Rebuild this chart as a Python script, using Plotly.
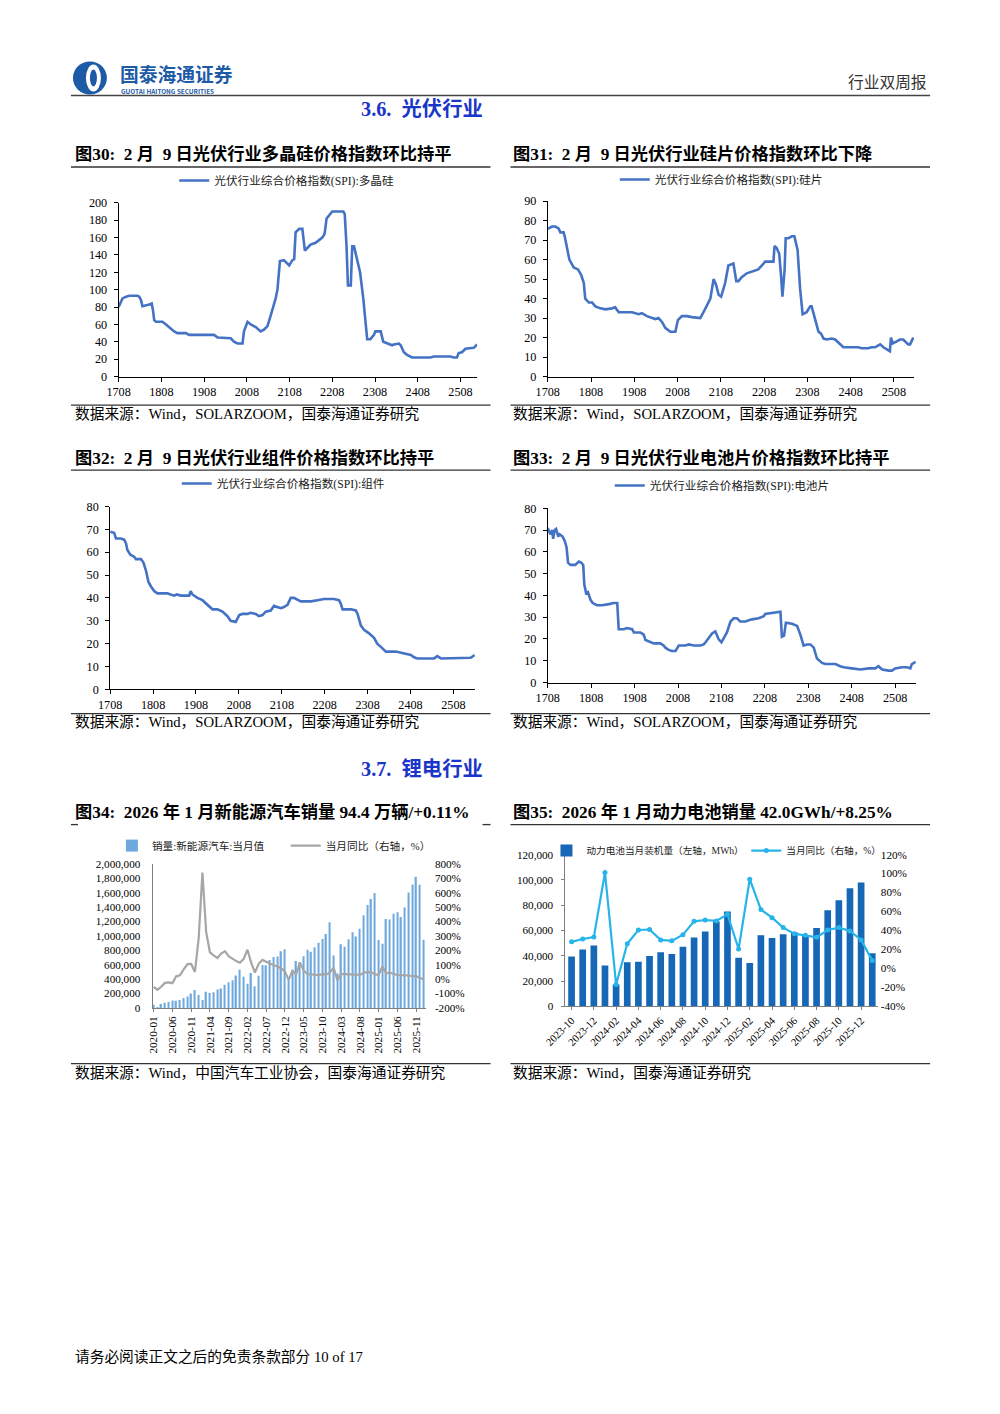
import plotly.graph_objects as go

W, H = 1000, 1414
# the page photo shows the figure slightly scaled/offset; map reference pixels to paper coords
SX, OX = 0.98, 20.0
SY, OY = 0.99, 6.5
def px(x): return (x - OX) / SX / W
def py(y): return 1 - (y - OY) / SY / H
K = 1.015  # font compensation

FONT = "Liberation Serif, Noto Sans CJK SC, serif"
SANS = "Noto Sans CJK SC, Noto Sans, sans-serif"

# ---------------- data ----------------
spi_tickvals = [0, 12, 24, 36, 48, 60, 72, 84, 96]
spi_ticktext = ["1708", "1808", "1908", "2008", "2108", "2208", "2308", "2408", "2508"]

# x = months since Aug-2017
poly_x = [0, 1.1, 2.1, 3.0, 5.3, 5.8, 6.3, 6.7, 8.6, 9.3, 9.7, 10.0, 10.5, 12.3, 13.3, 14.7, 15.6, 16.5,
          17.9, 18.9, 19.8, 26.8, 27.8, 31.5, 32.4, 33.4, 34.8, 35.2, 36.2, 37.1, 38.5, 39.9, 40.8, 41.8,
          42.7, 43.5, 44.1, 44.6, 45.3, 46.4, 47.4, 47.9, 48.8, 49.3, 49.7, 50.7, 51.6, 52.3, 53.0, 53.9,
          55.3, 56.3, 57.2, 57.7, 57.9, 58.4, 59.1, 60.0, 63.1, 63.5, 64.0, 64.4, 65.2, 65.6, 66.1, 67.0,
          67.8, 68.7, 69.3, 69.8, 70.7, 71.7, 72.1, 73.6, 74.3, 75.4, 76.8, 77.3, 78.7, 79.2, 80.1, 81.0,
          82.0, 82.4, 87.6, 88.5, 93.2, 94.1, 95.0, 95.5, 96.4, 97.4, 99.7, 100.7]
poly_y = [80, 90, 92, 93, 93, 92, 88, 81, 83, 84, 75, 65, 63, 63, 60, 55, 52, 50,
          50, 50, 48, 48, 45, 44, 40, 38, 38, 52, 63, 60, 57, 52, 54, 58,
          70, 80, 90, 100, 133, 134, 130, 128, 134, 135, 166, 170, 170, 145, 148, 152,
          154, 157, 160, 163, 166, 182, 185, 190, 190, 187, 150, 105, 105, 150, 150, 135,
          120, 90, 60, 43, 43, 48, 52, 52, 40, 38, 36, 37, 38, 36, 28, 25,
          23, 22, 22, 23, 23, 22, 22, 27, 28, 32, 33, 37]

wafer_x = [0, 1.2, 2.1, 3.0, 3.5, 4.4, 4.7, 5.2, 5.4, 6.0, 7.2, 8.4, 9.3, 10.0, 10.4, 11.4, 12.3, 13.2,
           14.6, 16.0, 17.8, 18.7, 19.7, 23.4, 25.2, 26.1, 27.5, 28.9, 29.8, 30.7, 31.7, 32.6, 34.0, 35.4,
           36.1, 37.2, 38.6, 40.0, 42.3, 43.2, 44.1, 45.1, 46.0, 46.7, 47.4, 48.1, 49.2, 50.1, 51.5, 52.3,
           52.9, 53.8, 55.2, 56.6, 58.4, 59.4, 60.3, 62.6, 62.9, 63.5, 64.2, 64.7, 65.1, 65.7, 66.0, 66.8,
           67.7, 68.4, 69.3, 70.0, 70.7, 71.8, 72.8, 73.2, 74.1, 75.1, 75.8, 76.5, 77.4, 78.8, 79.7, 80.6,
           81.1, 82.0, 86.1, 87.1, 88.9, 89.8, 90.8, 92.2, 93.1, 94.0, 94.9, 95.2, 95.7, 96.8, 97.7, 98.6,
           99.1, 100.0, 100.5, 101.4]
wafer_y = [75.8, 77, 77, 76, 74, 74, 72, 67, 67, 60, 56, 55, 52, 48, 40, 38, 38, 36,
           35, 34.5, 35, 35.5, 33, 33, 32, 32.5, 31, 30, 29.5, 30, 28, 25, 23, 23,
           29, 31, 31, 30.5, 30, 33, 36, 40, 50, 47, 42, 41, 48, 57, 58, 49,
           49, 51, 53, 54, 55, 57, 59, 59, 67, 66, 63, 52, 41, 55, 71, 71,
           72, 72, 65, 45, 32, 33, 36, 36, 30, 23, 22, 19.5, 19, 19.5, 19, 17.5,
           16.5, 15, 15, 14.5, 14.5, 15, 15, 16.5, 15, 14, 13, 20, 17, 18, 19, 19,
           18, 16.5, 16.5, 20]

module_x = [0, 1.1, 1.6, 3.0, 3.9, 4.4, 4.8, 5.6, 6.7, 7.2, 8.6, 9.3, 10.0, 10.7, 11.4, 12.3, 13.2, 16.0,
            16.9, 17.9, 18.6, 19.8, 22.1, 22.5, 23.0, 24.4, 25.8, 27.2, 28.6, 30.0, 31.4, 32.8, 33.7, 35.1,
            36.1, 37.0, 38.4, 39.3, 40.7, 41.6, 42.6, 43.5, 44.9, 45.8, 46.8, 47.7, 48.6, 49.6, 50.5, 51.4,
            53.3, 56.1, 58.0, 59.8, 62.6, 64.0, 64.5, 65.0, 67.3, 68.7, 69.2, 70.1, 71.0, 72.4, 73.8, 74.7,
            76.1, 77.1, 79.9, 81.3, 82.2, 84.1, 85.0, 85.9, 90.6, 91.5, 92.5, 95.3, 96.6, 100.8, 102.0]
module_y = [69, 68.5, 66, 66, 65.5, 64, 61, 59, 58, 57, 57, 55.5, 52, 47, 45, 43, 42, 42,
            41.5, 41, 41.5, 41, 41, 43, 41.5, 40, 39, 37, 35, 35, 34, 32, 30, 29.5,
            32.5, 33, 33, 33.5, 33, 32, 32.5, 34, 34.5, 36.5, 36, 35.5, 36, 37, 40, 40,
            38.5, 38.5, 39, 39.5, 39.5, 39, 37.5, 35, 35, 34.5, 33, 28, 26, 24.5, 22.5, 20,
            18, 16.5, 16.5, 16, 15.5, 15, 14, 13.5, 13.5, 14.5, 13.5, 13.5, 13.8, 13.8, 15]

cell_x = [0, 0.7, 1.2, 1.5, 1.9, 2.3, 2.9, 3.3, 4.1, 4.7, 5.2, 5.6, 6.3, 7.6, 8.6, 9.3, 9.8, 10.1,
          10.6, 11.1, 11.8, 12.4, 13.6, 15.0, 16.9, 18.2, 19.2, 19.6, 21.0, 21.9, 23.3, 23.8, 25.6, 26.5,
          27.0, 28.4, 29.3, 31.1, 32.0, 32.5, 33.4, 34.3, 35.3, 36.2, 38.0, 39.0, 40.3, 42.2, 43.1, 43.6,
          44.5, 45.4, 46.3, 47.2, 48.0, 48.6, 49.5, 50.5, 51.4, 52.3, 53.2, 54.6, 56.4, 58.3, 59.7, 60.1,
          62.0, 63.4, 64.3, 64.7, 65.3, 65.8, 67.5, 68.9, 69.8, 70.7, 71.6, 72.6, 73.5, 74.4, 75.8, 76.7,
          79.5, 80.8, 81.8, 84.0, 86.4, 88.7, 90.5, 91.4, 92.4, 94.2, 95.1, 96.0, 97.9, 99.3, 100.2, 100.6,
          101.7]
cell_y = [71, 68, 70, 66, 70, 70.5, 67, 68, 67, 65, 62, 55, 54, 54, 55.5, 55, 54, 45,
          41, 41.5, 38, 36.5, 35.5, 35.5, 36, 36.5, 36.5, 24.5, 24.5, 25, 24.5, 23, 23, 22,
          19.5, 18.5, 18, 18, 17, 16, 15, 14.5, 14.5, 17, 17, 17.5, 17, 17, 17.5, 18.5,
          20.5, 22.5, 23.5, 20, 18.5, 20.5, 23, 28, 29.5, 29.5, 28, 28, 29, 29.5, 30.5, 31.5,
          32, 32.5, 32.5, 21, 21.5, 27.5, 27, 26, 22, 17, 17.5, 17.5, 16, 11, 9, 8.5,
          8.5, 7.5, 7, 6.5, 6, 6.5, 6.5, 7.5, 6, 5.5, 5.5, 6.5, 7, 7, 6.5, 8.5,
          9.5]

nev_months = ["2020-01", "2020-02", "2020-03", "2020-04", "2020-05", "2020-06", "2020-07", "2020-08", "2020-09", "2020-10", "2020-11", "2020-12",
              "2021-01", "2021-02", "2021-03", "2021-04", "2021-05", "2021-06", "2021-07", "2021-08", "2021-09", "2021-10", "2021-11", "2021-12",
              "2022-01", "2022-02", "2022-03", "2022-04", "2022-05", "2022-06", "2022-07", "2022-08", "2022-09", "2022-10", "2022-11", "2022-12",
              "2023-01", "2023-02", "2023-03", "2023-04", "2023-05", "2023-06", "2023-07", "2023-08", "2023-09", "2023-10", "2023-11", "2023-12",
              "2024-01", "2024-02", "2024-03", "2024-04", "2024-05", "2024-06", "2024-07", "2024-08", "2024-09", "2024-10", "2024-11", "2024-12",
              "2025-01", "2025-02", "2025-03", "2025-04", "2025-05", "2025-06", "2025-07", "2025-08", "2025-09", "2025-10", "2025-11", "2025-12",
              "2026-01"]
nev_sales = [44000, 13000, 53000, 72000, 82000, 104000, 98000, 109000, 138000, 160000, 200000, 248000,
             179000, 110000, 226000, 206000, 217000, 256000, 271000, 321000, 357000, 383000, 450000, 531000,
             431000, 334000, 484000, 299000, 447000, 596000, 593000, 666000, 708000, 714000, 786000, 814000,
             408000, 525000, 653000, 636000, 717000, 806000, 780000, 843000, 904000, 956000, 1026000, 1191000,
             729000, 477000, 883000, 850000, 955000, 1049000, 991000, 1100000, 1287000, 1430000, 1512000, 1596000,
             944000, 892000, 1235000, 1226000, 1307000, 1329000, 1262000, 1395000, 1604000, 1715000, 1823000, 1710000,
             945000]
nev_yoy = [-54.4, -75.2, -53.2, -26.5, -23.5, -28.4, 19.3, 25.8, 67.7, 104.5, 104.9, 49.5,
           285, 740, 326, 186, 165, 146, 177, 194, 159, 139, 125, 114,
           141, 204, 114, 45, 106, 133, 119, 108, 98, 86, 75, 52,
           -5.3, 57, 35, 113, 60, 35, 31.6, 27, 28, 34, 31, 46,
           79, -9, 35, 34, 33, 30, 27, 30, 42, 50, 47, 34,
           29, 87, 40, 44, 37, 27, 27, 27, 25, 20, 21, 7,
           0.11]
nev_ticks = ["2020-01", "2020-06", "2020-11", "2021-04", "2021-09", "2022-02", "2022-07", "2022-12",
             "2023-05", "2023-10", "2024-03", "2024-08", "2025-01", "2025-06", "2025-11"]
nev_left_ticks = [0, 200000, 400000, 600000, 800000, 1000000, 1200000, 1400000, 1600000, 1800000, 2000000]
nev_right_vals = [-200, -100, 0, 100, 200, 300, 400, 500, 600, 700, 800]
nev_right_text = ["-200%", "-100%", "0%", "100%", "200%", "300%", "400%", "500%", "600%", "700%", "800%"]

bat_months = ["2023-10", "2023-11", "2023-12", "2024-01", "2024-02", "2024-03", "2024-04", "2024-05", "2024-06", "2024-07",
              "2024-08", "2024-09", "2024-10", "2024-11", "2024-12", "2025-01", "2025-02", "2025-03", "2025-04", "2025-05",
              "2025-06", "2025-07", "2025-08", "2025-09", "2025-10", "2025-11", "2025-12", "2026-01"]
bat_install = [39300, 44900, 48000, 32200, 17200, 34800, 35300, 39800, 42700, 41400,
               47000, 54400, 59100, 67000, 75000, 38300, 34300, 56200, 54100, 57000,
               58600, 55900, 62000, 76000, 83900, 93400, 97900, 42000]
bat_yoy = [28, 31, 33, 101, -17, 26, 40.5, 41, 30, 29,
           35.5, 49.6, 51, 50, 57, 20.4, 94, 62, 53.5, 43,
           36.6, 35, 32.7, 40.5, 43, 39.4, 30, 8.25]
bat_ticks = ["2023-10", "2023-12", "2024-02", "2024-04", "2024-06", "2024-08", "2024-10", "2024-12",
             "2025-02", "2025-04", "2025-06", "2025-08", "2025-10", "2025-12"]
bat_right_vals = [-40, -20, 0, 20, 40, 60, 80, 100, 120]
bat_right_text = ["-40%", "-20%", "0%", "20%", "40%", "60%", "80%", "100%", "120%"]

# ---------------- figure ----------------
SPI_BLUE = "#4472C4"
fig = go.Figure()

fig.add_trace(go.Scatter(x=poly_x, y=poly_y, mode="lines", line=dict(color=SPI_BLUE, width=2.6),
                         name="光伏行业综合价格指数(SPI):多晶硅", xaxis="x", yaxis="y", legend="legend"))
fig.add_trace(go.Scatter(x=wafer_x, y=wafer_y, mode="lines", line=dict(color=SPI_BLUE, width=2.6),
                         name="光伏行业综合价格指数(SPI):硅片", xaxis="x2", yaxis="y2", legend="legend2"))
fig.add_trace(go.Scatter(x=module_x, y=module_y, mode="lines", line=dict(color=SPI_BLUE, width=2.6),
                         name="光伏行业综合价格指数(SPI):组件", xaxis="x3", yaxis="y3", legend="legend3"))
fig.add_trace(go.Scatter(x=cell_x, y=cell_y, mode="lines", line=dict(color=SPI_BLUE, width=2.6),
                         name="光伏行业综合价格指数(SPI):电池片", xaxis="x4", yaxis="y4", legend="legend4"))

fig.add_trace(go.Bar(x=nev_months, y=nev_sales, marker=dict(color="#6FA8DC", line=dict(width=0)), width=0.35,
                     name="销量:新能源汽车:当月值", xaxis="x5", yaxis="y5", legend="legend5"))
fig.add_trace(go.Scatter(x=nev_months, y=nev_yoy, mode="lines", line=dict(color="#A6A6A6", width=2.2),
                         name="当月同比（右轴，%）", xaxis="x5", yaxis="y7", legend="legend7"))

fig.add_trace(go.Bar(x=bat_months, y=bat_install, marker=dict(color="#1667B5", line=dict(width=0)), width=0.6,
                     name="动力电池当月装机量（左轴，MWh）", xaxis="x6", yaxis="y6", legend="legend6"))
fig.add_trace(go.Scatter(x=bat_months, y=bat_yoy, mode="lines+markers",
                         line=dict(color="#27B4EA", width=2.2), marker=dict(color="#27B4EA", size=5, symbol="circle"),
                         name="当月同比（右轴，%）", xaxis="x6", yaxis="y8", legend="legend8"))


def xax(x0, x1, anchor, lc="#000", fs=12, **kw):
    d = dict(domain=[px(x0), px(x1)], anchor=anchor, showline=True, linecolor=lc, linewidth=1,
             ticks="outside", ticklen=4, tickcolor=lc, showgrid=False, zeroline=False,
             tickfont=dict(family=FONT, size=fs * K, color="#000"))
    d.update(kw)
    return d


def yax(ytop, ybot, anchor, lc="#000", fs=12, **kw):
    d = dict(domain=[py(ybot), py(ytop)], anchor=anchor, showline=True, linecolor=lc, linewidth=1,
             ticks="outside", ticklen=4, tickcolor=lc, showgrid=False, zeroline=False,
             tickfont=dict(family=FONT, size=fs * K, color="#000"))
    d.update(kw)
    return d


layout = dict(
    width=W, height=H, autosize=False, margin=dict(l=0, r=0, t=0, b=0),
    paper_bgcolor="white", plot_bgcolor="rgba(0,0,0,0)", showlegend=True,
    font=dict(family=FONT, color="#000"),
    xaxis=xax(117.7, 476.7, "y", range=[0, 100.7], tickvals=spi_tickvals, ticktext=spi_ticktext),
    yaxis=yax(202.3, 376, "x", range=[0, 200], dtick=20, ticklabelstandoff=4),
    xaxis2=xax(547.3, 914.3, "y2", range=[0, 101.7], tickvals=spi_tickvals, ticktext=spi_ticktext),
    yaxis2=yax(200.7, 376, "x2", range=[0, 90], dtick=10, ticklabelstandoff=4),
    xaxis3=xax(109.3, 474.3, "y3", range=[0, 102], tickvals=spi_tickvals, ticktext=spi_ticktext),
    yaxis3=yax(506, 688.7, "x3", range=[0, 80], dtick=10, ticklabelstandoff=4),
    xaxis4=xax(547.3, 915.7, "y4", range=[0, 101.7], tickvals=spi_tickvals, ticktext=spi_ticktext),
    yaxis4=yax(507.7, 682, "x4", range=[0, 80], dtick=10, ticklabelstandoff=4),
    xaxis5=xax(151.7, 425.3, "y5", lc="#7f7f7f", fs=11, type="category", range=[-0.3, 72.6],
               tickvals=nev_ticks, ticktext=nev_ticks, tickangle=-90, ticklen=3),
    yaxis5=yax(863.3, 1007.3, "x5", lc="#7f7f7f", fs=11, range=[0, 2000000],
               tickvals=nev_left_ticks, tickformat=",", ticks="", ticklabelstandoff=9),
    yaxis7=dict(overlaying="y5", side="right", anchor="x5", range=[-200, 800], tickvals=nev_right_vals,
                ticktext=nev_right_text, showline=False, showgrid=False, zeroline=False, ticks="",
                ticklabelstandoff=8, tickfont=dict(family=FONT, size=11 * K, color="#000")),
    xaxis6=xax(565, 877.7, "y6", lc="#7f7f7f", fs=10.5, type="category", range=[-0.55, 27.5],
               tickvals=bat_ticks, ticktext=bat_ticks, tickangle=-45, ticklen=3),
    yaxis6=yax(854, 1005.7, "x6", lc="#7f7f7f", fs=11, range=[0, 120000], dtick=20000, tickformat=",",
               ticklen=3, ticklabelstandoff=6),
    yaxis8=dict(overlaying="y6", side="right", anchor="x6", range=[-40, 120], tickvals=bat_right_vals,
                ticktext=bat_right_text, showline=False, showgrid=False, zeroline=False, ticks="",
                ticklabelstandoff=2, tickfont=dict(family=FONT, size=11 * K, color="#000")),
)


def leg(cx, cy, fs=11.5, xanchor="center"):
    return dict(x=px(cx), y=py(cy), xanchor=xanchor, yanchor="middle", orientation="h",
                bgcolor="rgba(0,0,0,0)", font=dict(family=FONT, size=fs * K, color="#222"),
                itemwidth=30, tracegroupgap=0)


layout["legend"] = leg(286, 180)
layout["legend2"] = leg(721, 179)
layout["legend3"] = leg(283, 483)
layout["legend4"] = leg(722, 485)
layout["legend5"] = leg(111, 845, 10.5, "left")
layout["legend7"] = leg(285, 845, 10.5, "left")
layout["legend6"] = leg(546, 850, 9.5, "left")
layout["legend8"] = leg(746, 850, 9.5, "left")
fig.update_layout(**layout)

# ---------------- page text ----------------
def ann(text, x, y, size, color="#000", bold=False, xanchor="left", family=FONT):
    if bold:
        text = "<b>" + text + "</b>"
    fig.add_annotation(text=text, x=px(x), y=py(y), xref="paper", yref="paper", xanchor=xanchor,
                       yanchor="middle", showarrow=False, font=dict(family=family, size=size * K, color=color))

LOGO_BLUE = "#1D5BA7"
ann("国泰海通证券", 117, 73, 18.5, LOGO_BLUE, True, family=SANS)
ann("GUOTAI HAITONG SECURITIES", 118, 91, 6.3, LOGO_BLUE, True, family=SANS)
ann("行业双周报", 929, 82, 15.5, "#333", xanchor="right")

SEC_BLUE = "#1A36C8"
ann("3.6.&nbsp;&nbsp;光伏行业", 358, 108, 20, SEC_BLUE, True)
ann("3.7.&nbsp;&nbsp;锂电行业", 358, 768, 20, SEC_BLUE, True)

TS = 17
ann("图30:&nbsp;&nbsp;2 月&nbsp;&nbsp;9 日光伏行业多晶硅价格指数环比持平", 72, 153, TS, bold=True)
ann("图31:&nbsp;&nbsp;2 月&nbsp;&nbsp;9 日光伏行业硅片价格指数环比下降", 511, 153, TS, bold=True)
ann("图32:&nbsp;&nbsp;2 月&nbsp;&nbsp;9 日光伏行业组件价格指数环比持平", 72, 457, TS, bold=True)
ann("图33:&nbsp;&nbsp;2 月&nbsp;&nbsp;9 日光伏行业电池片价格指数环比持平", 511, 457, TS, bold=True)
ann("图34:&nbsp;&nbsp;2026 年 1 月新能源汽车销量 94.4 万辆/+0.11%", 72, 811, TS, bold=True)
ann("图35:&nbsp;&nbsp;2026 年 1 月动力电池销量 42.0GWh/+8.25%", 511, 811, TS, bold=True)

SS = 14.5
ann("数据来源：Wind，SOLARZOOM，国泰海通证券研究", 72, 413, SS)
ann("数据来源：Wind，SOLARZOOM，国泰海通证券研究", 511, 413, SS)
ann("数据来源：Wind，SOLARZOOM，国泰海通证券研究", 72, 721, SS)
ann("数据来源：Wind，SOLARZOOM，国泰海通证券研究", 511, 721, SS)
ann("数据来源：Wind，中国汽车工业协会，国泰海通证券研究", 72, 1072, SS)
ann("数据来源：Wind，国泰海通证券研究", 511, 1072, SS)

ann("请务必阅读正文之后的免责条款部分 10 of 17", 72, 1356, 14.5)

# ---------------- page rules & logo ----------------
def hline(x0, x1, y, color="#333", w=1.3):
    fig.add_shape(type="line", xref="paper", yref="paper", x0=px(x0), x1=px(x1), y0=py(y), y1=py(y),
                  line=dict(color=color, width=w))

hline(70, 930, 95, "#444", 1.6)
for (a, b) in [(70, 490), (510, 930)]:
    hline(a, b, 166.5)
    hline(a, b, 404.5)
    hline(a, b, 469.5)
    hline(a, b, 713)
    hline(a, b, 1063)
hline(510, 930, 824)
hline(70, 77, 824)
hline(482, 490, 824)

# logo
fig.add_shape(type="circle", xref="paper", yref="paper", x0=px(72), x1=px(106), y0=py(94), y1=py(61),
              fillcolor=LOGO_BLUE, line=dict(width=0))
fig.add_shape(type="circle", xref="paper", yref="paper", x0=px(85), x1=px(100), y0=py(91), y1=py(64),
              fillcolor="white", line=dict(width=0))
fig.add_shape(type="circle", xref="paper", yref="paper", x0=px(89), x1=px(96), y0=py(86), y1=py(69),
              fillcolor=LOGO_BLUE, line=dict(width=0))

fig.write_html("out.html", config={"displayModeBar": False},
               post_script="document.body.style.margin='0';document.body.style.overflow='hidden';")
